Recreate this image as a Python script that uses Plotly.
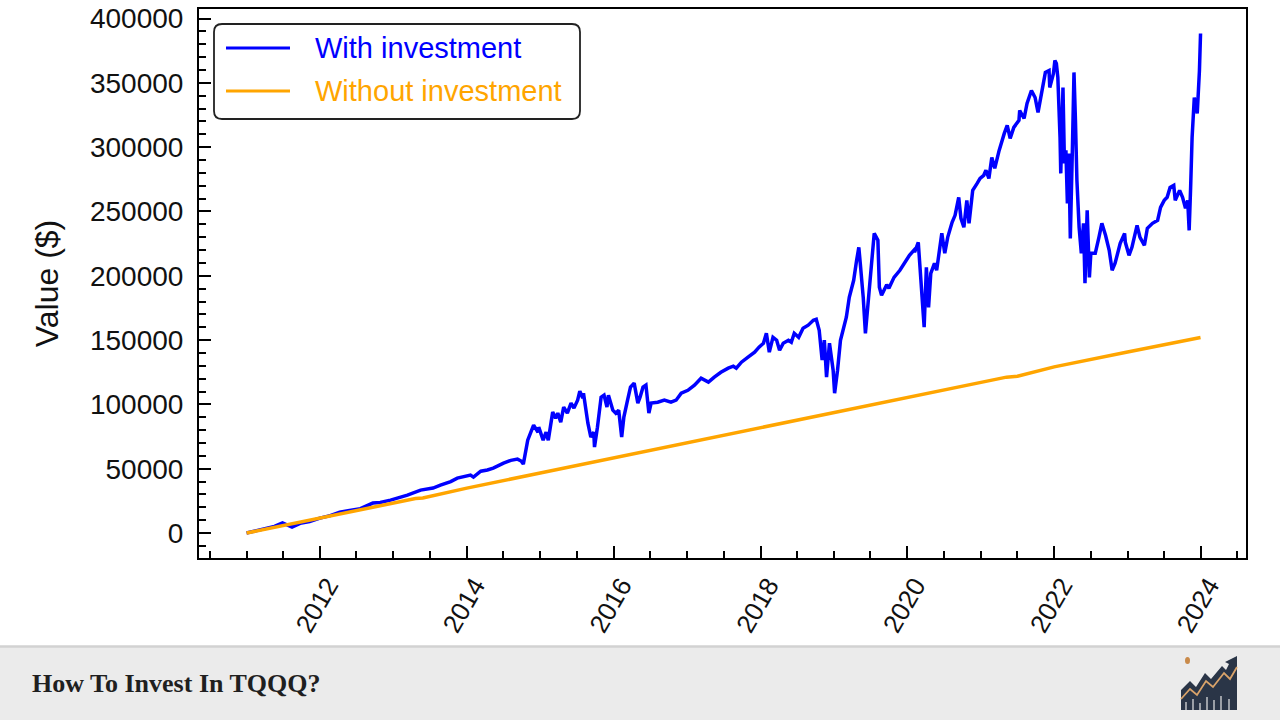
import plotly.graph_objects as go
from datetime import datetime, timedelta

# ---------------- data ----------------
with_years = [
    2011.00, 2011.11, 2011.25, 2011.38, 2011.49, 2011.56, 2011.62, 2011.73, 2011.86,
    2012.00, 2012.14, 2012.27, 2012.41, 2012.55, 2012.72, 2012.82, 2012.96,
    2013.09, 2013.19, 2013.37, 2013.54, 2013.64, 2013.78, 2013.87, 2013.98,
    2014.05, 2014.09, 2014.19, 2014.28, 2014.36, 2014.50, 2014.60, 2014.69, 2014.74, 2014.77,
    2014.83, 2014.91, 2014.97, 2014.98, 2015.04, 2015.08, 2015.11, 2015.17, 2015.21, 2015.24,
    2015.28, 2015.32, 2015.37, 2015.42, 2015.46, 2015.51, 2015.54, 2015.58, 2015.59, 2015.65,
    2015.69, 2015.73, 2015.74, 2015.78, 2015.83, 2015.87, 2015.91, 2015.93, 2015.99,
    2016.03, 2016.07, 2016.11, 2016.14, 2016.19, 2016.23, 2016.28, 2016.33, 2016.36, 2016.40,
    2016.44, 2016.48, 2016.51, 2016.60, 2016.69, 2016.78, 2016.85, 2016.92,
    2017.01, 2017.10, 2017.19, 2017.29, 2017.37, 2017.46, 2017.56, 2017.63, 2017.67, 2017.74,
    2017.83, 2017.92, 2017.98,
    2018.04, 2018.08, 2018.12, 2018.17, 2018.22, 2018.26, 2018.31, 2018.38, 2018.42, 2018.46,
    2018.52, 2018.58, 2018.65, 2018.72, 2018.76, 2018.80, 2018.84, 2018.87, 2018.90, 2018.94,
    2018.99, 2019.01, 2019.05, 2019.09, 2019.13, 2019.17, 2019.21, 2019.27, 2019.31, 2019.34,
    2019.36, 2019.40, 2019.43, 2019.47, 2019.51, 2019.55, 2019.60, 2019.62, 2019.65, 2019.72,
    2019.75, 2019.82, 2019.90, 2019.96,
    2020.03, 2020.09, 2020.10, 2020.15, 2020.18, 2020.22, 2020.23, 2020.26, 2020.29, 2020.32,
    2020.37, 2020.40, 2020.44, 2020.47, 2020.51, 2020.55, 2020.61, 2020.65, 2020.70, 2020.73,
    2020.77, 2020.81, 2020.84, 2020.89, 2020.95, 2020.99,
    2021.04, 2021.07, 2021.11, 2021.15, 2021.19, 2021.25, 2021.32, 2021.36, 2021.40, 2021.45,
    2021.52, 2021.53, 2021.59, 2021.63, 2021.69, 2021.74, 2021.78, 2021.82, 2021.88, 2021.93,
    2021.94, 2021.99,
    2022.01, 2022.03, 2022.05, 2022.08, 2022.09, 2022.12, 2022.14, 2022.16, 2022.18, 2022.20,
    2022.22, 2022.25, 2022.27, 2022.29, 2022.31, 2022.34, 2022.37, 2022.40, 2022.42, 2022.45,
    2022.48, 2022.50, 2022.56, 2022.61, 2022.65, 2022.70, 2022.75, 2022.79, 2022.83, 2022.90,
    2022.96, 2022.97,
    2023.02, 2023.06, 2023.13, 2023.17, 2023.23, 2023.27, 2023.34, 2023.41, 2023.45, 2023.50,
    2023.54, 2023.58, 2023.63, 2023.65, 2023.71, 2023.75, 2023.79, 2023.82, 2023.84, 2023.86,
    2023.88, 2023.91, 2023.95, 2023.98, 2023.995,
]
with_values = [
    0, 1300, 3000, 5200, 7800, 6000, 4700, 7500, 9000,
    11600, 13500, 16300, 17500, 19000, 23300, 23800, 25600,
    27500, 29500, 33400, 35000, 37300, 40000, 42700, 44500,
    45000, 43500, 48100, 49000, 50500, 54400, 56500, 57500, 56000, 53600,
    72200, 83900, 78400, 82300, 72200, 78400, 72200, 94000, 89300, 93200,
    86200, 97900, 93200, 101000, 97100, 103300, 110300, 104900, 108700, 85400,
    74600, 78400, 66800, 82300, 105600, 107200, 97900, 107200, 95500,
    93200, 95500, 74600, 90100, 103300, 113400, 116500, 101000, 105600, 113400,
    115000, 93200, 101000, 101700, 103300, 101700, 103300, 108700,
    111000, 115000, 120400, 117300, 121200, 125000, 128200, 129700, 128200, 132800,
    136700, 140600, 144500,
    147600, 155300, 140600, 152200, 149900, 142100, 147600, 149900, 148300, 155300,
    152200, 159200, 161600, 165400, 166200, 157700, 134400, 150000, 121200, 147600,
    126600, 108700, 126600, 149900, 160000, 167800, 183300, 196500, 212000, 222100,
    209700, 183300, 155300, 181000, 214400, 233000, 227600, 191100, 184900, 193000,
    190300, 198800, 204300, 209700,
    215900, 219800, 218300, 226000, 198800, 167800, 160000, 206600, 175500, 201900,
    209700, 204300, 219800, 233000, 217500, 229900, 241600, 247000, 261000, 244700,
    237700, 258600, 240800, 266400, 271800, 275700,
    278100, 282000, 275700, 292000, 283500, 297500, 310700, 316900, 306800, 315400,
    320800, 328500, 322300, 334000, 344000, 338600, 327000, 340200, 358100, 359600,
    346400, 357300,
    367400, 365000, 354200, 307600, 279600, 346400, 287400, 297500, 256300, 295100,
    229100, 302900, 358100, 320800, 274200, 237700, 217500, 240800, 194200, 250900,
    198800, 217500, 217500, 229900, 240800, 231500, 219800, 204300, 209700, 225200,
    233000, 226000,
    215900, 222100, 239200, 229900, 223700, 236900, 240800, 243100, 253200, 258600,
    261000, 268700, 270300, 258600, 266400, 261000, 252400, 258600, 235300, 268700,
    307600, 338600, 326200, 359600, 388400,
]

without_years = [2011.0, 2012.0, 2013.0, 2013.3, 2013.4, 2014.0, 2015.0, 2016.0, 2017.0,
                 2018.0, 2019.0, 2020.0, 2021.0, 2021.35, 2021.5, 2022.0, 2023.0, 2023.995]
without_values = [0, 11700, 23400, 26800, 27200, 34900, 46700, 58400, 70200,
                  82300, 93800, 105600, 117200, 121200, 121900, 129200, 140700, 152000]

series_names = ["With investment", "Without investment"]
series_colors = ["#0000ff", "#ffa500"]
tick_years = ["2012", "2014", "2016", "2018", "2020", "2022", "2024"]
y_label = "Value ($)"
footer_title = "How To Invest In TQQQ?"


def to_date(y):
    yr = int(y)
    start = datetime(yr, 1, 1)
    span = (datetime(yr + 1, 1, 1) - start).days
    return start + timedelta(days=(y - yr) * span)


W, H = 1280, 720


def px(x):
    return x / W


def py(y):
    return 1 - y / H


fig = go.Figure()
fig.add_trace(go.Scatter(
    x=[to_date(v) for v in with_years], y=with_values, mode="lines",
    line=dict(color=series_colors[0], width=3.5), name=series_names[0], showlegend=False))
fig.add_trace(go.Scatter(
    x=[to_date(v) for v in without_years], y=without_values, mode="lines",
    line=dict(color=series_colors[1], width=3.5), name=series_names[1], showlegend=False))

axis_font = dict(family="Liberation Sans, Arial, sans-serif", color="#111111")

fig.update_layout(
    width=W, height=H,
    margin=dict(l=0, r=0, t=0, b=0),
    paper_bgcolor="white", plot_bgcolor="white",
    xaxis=dict(
        domain=[px(199), px(1246)],
        automargin=False,
        type="date",
        range=[to_date(2010.352), to_date(2024.613)],
        tickvals=[datetime(int(t), 1, 1) for t in tick_years],
        ticktext=tick_years,
        tickangle=-60,
        tickfont=dict(size=26, **axis_font),
        ticklabelshift=8,
        ticks="inside", ticklen=12, tickwidth=2, tickcolor="black",
        minor=dict(ticks="inside", ticklen=7, tickwidth=1.5, tickcolor="black",
                   dtick="M6", tick0="2010-01-01"),
        showline=True, linecolor="black", linewidth=2, mirror=True,
        showgrid=False, zeroline=False,
    ),
    yaxis=dict(
        domain=[py(558), py(9)],
        automargin=False,
        range=[-19400, 407400],
        dtick=50000, tick0=0, tickformat="d",
        tickfont=dict(size=28, **axis_font),
        ticklabelstandoff=8,
        ticks="inside", ticklen=12, tickwidth=2, tickcolor="black",
        minor=dict(ticks="inside", ticklen=7, tickwidth=1.5, tickcolor="black", dtick=10000),
        showline=True, linecolor="black", linewidth=2, mirror=True,
        showgrid=False, zeroline=False,
        title=dict(text=y_label, font=dict(size=32, **axis_font), standoff=22),
    ),
)

shapes = []
annotations = []

# custom legend (rounded box)
lx0, lx1, ly0, ly1, r = 214, 580, 24, 119, 8
path = (f"M {px(lx0 + r)},{py(ly0)} L {px(lx1 - r)},{py(ly0)} "
        f"Q {px(lx1)},{py(ly0)} {px(lx1)},{py(ly0 + r)} L {px(lx1)},{py(ly1 - r)} "
        f"Q {px(lx1)},{py(ly1)} {px(lx1 - r)},{py(ly1)} L {px(lx0 + r)},{py(ly1)} "
        f"Q {px(lx0)},{py(ly1)} {px(lx0)},{py(ly1 - r)} L {px(lx0)},{py(ly0 + r)} "
        f"Q {px(lx0)},{py(ly0)} {px(lx0 + r)},{py(ly0)} Z")
shapes.append(dict(type="path", xref="paper", yref="paper", path=path,
                   fillcolor="rgba(255,255,255,0.9)", line=dict(color="#222222", width=1.8)))
for i, yy in enumerate([48, 91]):
    shapes.append(dict(type="line", xref="paper", yref="paper",
                       x0=px(226), x1=px(290), y0=py(yy), y1=py(yy),
                       line=dict(color=series_colors[i], width=3)))
    annotations.append(dict(xref="paper", yref="paper", x=px(313), y=py(yy),
                            xanchor="left", yanchor="middle", showarrow=False,
                            text=series_names[i],
                            font=dict(size=29, color=series_colors[i],
                                      family="Liberation Sans, Arial, sans-serif")))

# footer band
shapes.append(dict(type="rect", xref="paper", yref="paper", x0=0, x1=1, y0=0, y1=py(647),
                   fillcolor="#ebebeb", line=dict(width=0), layer="below"))
shapes.append(dict(type="line", xref="paper", yref="paper", x0=0, x1=1, y0=py(646.5), y1=py(646.5),
                   line=dict(color="#d2d2d2", width=2.5)))
annotations.append(dict(xref="paper", yref="paper", x=px(30), y=py(683),
                        xanchor="left", yanchor="middle", showarrow=False,
                        text=f"<b>{footer_title}</b>",
                        font=dict(size=26, color="#1f1f1f",
                                  family="Liberation Serif, Times New Roman, serif")))

# footer icon (decoration)
icon = [(1181, 710), (1181, 690), (1190, 681), (1196, 687), (1205, 673), (1211, 679),
        (1222, 666), (1226, 670), (1229, 664), (1225, 662), (1237, 656), (1237, 710)]
ip = "M " + " L ".join(f"{px(a)},{py(b)}" for a, b in icon) + " Z"
shapes.append(dict(type="path", xref="paper", yref="paper", path=ip,
                   fillcolor="#2a3547", line=dict(width=0)))
zig = [(1181, 699), (1190, 689), (1197, 695), (1206, 681), (1213, 687), (1224, 673),
       (1230, 679), (1237, 667)]
zp = "M " + " L ".join(f"{px(a)},{py(b)}" for a, b in zig)
shapes.append(dict(type="path", xref="paper", yref="paper", path=zp,
                   line=dict(color="#d9a36a", width=1.8)))
for bx, top in [(1186, 702), (1193, 699), (1200, 703), (1207, 697), (1214, 700), (1221, 696), (1229, 699)]:
    shapes.append(dict(type="line", xref="paper", yref="paper", x0=px(bx), x1=px(bx),
                       y0=py(top), y1=py(710), line=dict(color="#e8e8e8", width=1.2)))
shapes.append(dict(type="circle", xref="paper", yref="paper", x0=px(1185), x1=px(1190),
                   y0=py(664), y1=py(657), fillcolor="#c98a4a", line=dict(width=0)))

fig.update_layout(shapes=shapes, annotations=annotations)
fig.write_html("out.html",
               config={"displayModeBar": False},
               post_script="document.body.style.margin='0';document.body.style.overflow='hidden';")
